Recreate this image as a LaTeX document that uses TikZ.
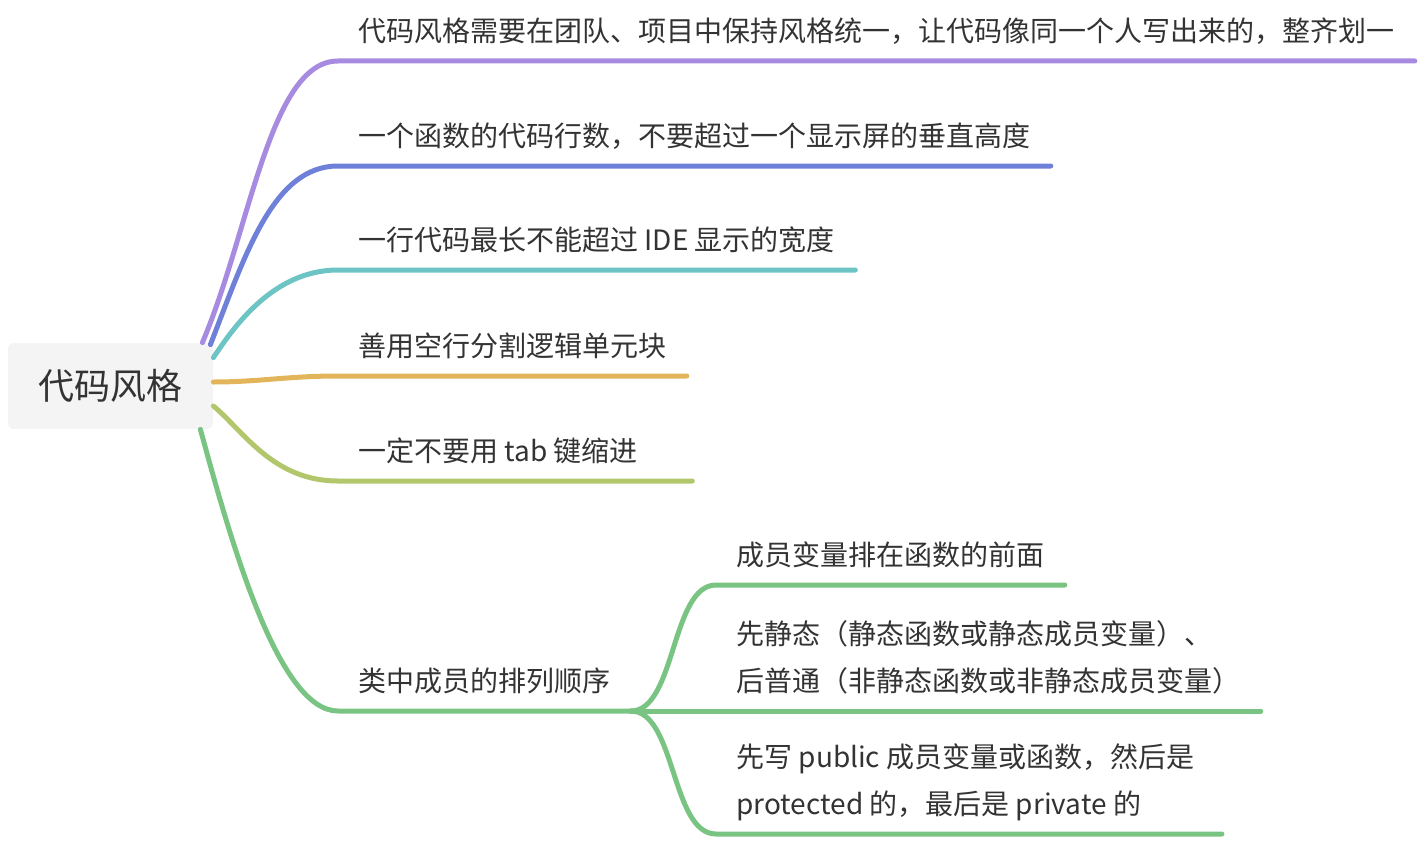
\documentclass[tikz,border=0pt]{standalone}
\usepackage{fontspec}
\setmainfont{Noto Sans CJK SC}
\usepackage{xcolor}
\usepackage{tikz}
\usetikzlibrary{calc}

\definecolor{textgray}{HTML}{333333}
\definecolor{rootgray}{HTML}{F4F4F4}
\definecolor{brPurple}{HTML}{A68BE0}
\definecolor{brBlue}{HTML}{6E80D8}
\definecolor{brTeal}{HTML}{6CC4C4}
\definecolor{brYellow}{HTML}{E3B55B}
\definecolor{brOlive}{HTML}{B2C76C}
\definecolor{brGreen}{HTML}{7AC483}

\begin{document}
\begin{tikzpicture}[
    x=0.5pt, y=-0.5pt,
    every node/.style={text=textgray},
    root/.style={fill=rootgray, rounded corners=3pt, minimum width=102.5pt,
        minimum height=43pt, font=\fontsize{18}{22}\selectfont},
    topic/.style={anchor=south west, inner xsep=10pt, inner ysep=2.65pt,
        align=left, font=\fontsize{14}{23.5}\selectfont},
    branch/.style={line width=2.5pt, line cap=round}
]
\useasboundingbox (0,0) rectangle (1422,840);

\node[topic] (t1) at (338,61) {代码风格需要在团队、项目中保持风格统一，让代码像同一个人写出来的，整齐划一\strut};
\node[topic] (t2) at (338,166) {一个函数的代码行数，不要超过一个显示屏的垂直高度\strut};
\node[topic] (t3) at (338,270) {一行代码最长不能超过 IDE 显示的宽度\strut};
\node[topic] (t4) at (338,376) {善用空行分割逻辑单元块\strut};
\node[topic] (t5) at (338,481) {一定不要用 tab 键缩进\strut};
\node[topic] (t6) at (338,711) {类中成员的排列顺序\strut};
\node[topic] (ta) at (716,585) {成员变量排在函数的前面\strut};
\node[topic] (tb) at (716,711) {先静态（静态函数或静态成员变量）、\strut\\后普通（非静态函数或非静态成员变量）\strut};
\node[topic] (tc) at (716,834) {先写 public 成员变量或函数，然后是\strut\\protected 的，最后是 private 的\strut};

\node[root] (root) at (110.5,386) {代码风格};

\draw[branch, brPurple] ($(root.north east)+(-11,0)$) .. controls +(48,-113) and +(-68,0) .. (t1.south west) -- (t1.south east);
\draw[branch, brBlue] ($(root.north east)+(-3,2)$) .. controls +(35,-90) and +(-65,0) .. (t2.south west) -- (t2.south east);
\draw[branch, brTeal] ($(root.north east)+(0,15)$) .. controls +(20,-30) and +(-65,0) .. (t3.south west) -- (t3.south east);
\draw[branch, brYellow] ($(root.east)+(0,-4)$) .. controls +(45,0) and +(-50,0) .. (t4.south west) -- (t4.south east);
\draw[branch, brOlive] ($(root.east)+(0,20)$) .. controls +(30,25) and +(-65,0) .. (t5.south west) -- ($(t5.south east)+(34,0)$);
\draw[branch, brGreen] ($(root.south east)+(-13,0)$) .. controls +(30,110) and +(-60,0) .. (t6.south west) -- (t6.south east);

\draw[branch, brGreen] (t6.south east) .. controls +(45,0) and +(-45,0) .. (ta.south west) -- (ta.south east);
\draw[branch, brGreen] (t6.south east) -- (tb.south west) -- (tb.south east);
\draw[branch, brGreen] (t6.south east) .. controls +(45,0) and +(-45,0) .. (tc.south west) -- ($(tc.south east)+(7,0)$);
\end{tikzpicture}
\end{document}
